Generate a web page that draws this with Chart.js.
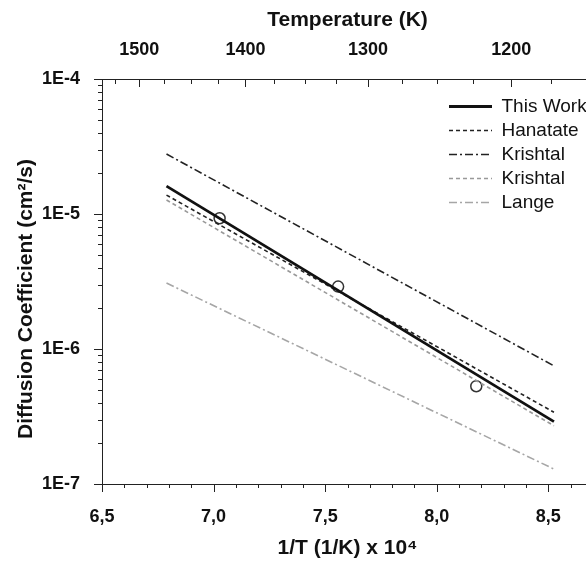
<!DOCTYPE html>
<html>
<head>
<meta charset="utf-8">
<script src="https://cdn.jsdelivr.net/npm/chart.js@4/dist/chart.umd.min.js"></script>
<style>
  html, body { margin: 0; padding: 0; overflow: hidden; background: #fff; }
  #wrap { width: 600px; height: 561px; }
</style>
</head>
<body>
<div id="wrap"><canvas id="c" width="600" height="561"></canvas></div>
<script>
// ---- data ----
const lineX = [6.789, 8.525];                 // 1/T x 1e4 (1473 K .. 1173 K)
const thisWork = [1.61e-5, 2.9e-7];
const hanatate = [1.38e-5, 3.4e-7];
const krishtalA = [2.78e-5, 7.5e-7];
const krishtalB = [1.27e-5, 2.7e-7];
const lange = [3.08e-6, 1.29e-7];
const expX = [7.027, 7.558, 8.177];
const expD = [9.3e-6, 2.9e-6, 5.3e-7];

const xTickValues = [6.5, 7.0, 7.5, 8.0, 8.5];
const xTickLabels = ['6,5', '7,0', '7,5', '8,0', '8,5'];
const yTickValues = [1e-7, 1e-6, 1e-5, 1e-4];
const yTickLabels = ['1E-7', '1E-6', '1E-5', '1E-4'];
const topTemps = [1500, 1400, 1300, 1200];
const topMinorTemps = [1525, 1475, 1450, 1425, 1375, 1350, 1325, 1275, 1250, 1225, 1175, 1150];

const FONT = "'Liberation Sans', Arial, sans-serif";

function pts(xs, ys) { return xs.map((x, i) => ({ x: x, y: ys[i] })); }

const tickPlugin = {
  id: 'axisTicks',
  afterDraw(chart) {
    const ctx = chart.ctx;
    const xs = chart.scales.x, x2 = chart.scales.x2, ys = chart.scales.y;
    const ca = chart.chartArea;
    ctx.save();
    ctx.strokeStyle = '#222';
    ctx.lineWidth = 1;
    ctx.beginPath();
    for (let k = 65; k <= 87; k++) {
      const v = k / 10;
      const px = Math.round(xs.getPixelForValue(v)) + 0.5;
      const major = (k % 5 === 0);
      ctx.moveTo(px, ca.bottom);
      ctx.lineTo(px, ca.bottom + (major ? 8 : 4));
    }
    topTemps.forEach(T => {
      const px = Math.round(x2.getPixelForValue(1e4 / T)) + 0.5;
      ctx.moveTo(px, ca.top); ctx.lineTo(px, ca.top + 8);
    });
    topMinorTemps.forEach(T => {
      const px = Math.round(x2.getPixelForValue(1e4 / T)) + 0.5;
      ctx.moveTo(px, ca.top); ctx.lineTo(px, ca.top + 5);
    });
    for (let e = -7; e <= -4; e++) {
      const base = Math.pow(10, e);
      const py = Math.round(ys.getPixelForValue(base)) + 0.5;
      ctx.moveTo(ca.left, py); ctx.lineTo(ca.left - 8, py);
      if (e < -4) {
        for (let m = 2; m <= 9; m++) {
          const pm = Math.round(ys.getPixelForValue(m * base)) + 0.5;
          ctx.moveTo(ca.left, pm); ctx.lineTo(ca.left - 4, pm);
        }
      }
    }
    ctx.stroke();
    ctx.restore();
  },
  afterLayout(chart) {
    const lg = chart.legend;
    if (lg) {
      lg.left = 444; lg.top = 92;
      lg.right = 600; lg.bottom = 300;
    }
  }
};

const common = { showLine: true, pointRadius: 0, pointHoverRadius: 0, fill: false, tension: 0 };

new Chart(document.getElementById('c'), {
  type: 'scatter',
  data: {
    datasets: [
      Object.assign({ label: 'This Work', data: pts(lineX, thisWork), borderColor: '#111', backgroundColor: '#111', borderWidth: 2.8 }, common),
      Object.assign({ label: 'Hanatate', data: pts(lineX, hanatate), borderColor: '#222', backgroundColor: '#222', borderWidth: 1.6, borderDash: [4, 3] }, common),
      Object.assign({ label: 'Krishtal', data: pts(lineX, krishtalA), borderColor: '#222', backgroundColor: '#222', borderWidth: 1.6, borderDash: [8, 3, 2, 3] }, common),
      Object.assign({ label: 'Krishtal', data: pts(lineX, krishtalB), borderColor: '#999', backgroundColor: '#999', borderWidth: 1.6, borderDash: [4, 3] }, common),
      Object.assign({ label: 'Lange', data: pts(lineX, lange), borderColor: '#a6a6a6', backgroundColor: '#a6a6a6', borderWidth: 1.6, borderDash: [8, 3, 2, 3] }, common),
      { label: 'exp', data: pts(expX, expD), showLine: false, pointRadius: 5.5, pointBorderWidth: 1.5,
        pointBackgroundColor: '#fff', pointBorderColor: '#333', backgroundColor: '#fff', borderColor: '#333' }
    ]
  },
  options: {
    responsive: false,
    animation: false,
    devicePixelRatio: 1,
    layout: { padding: { left: 0, right: 1, top: 0, bottom: 0 } },
    plugins: {
      tooltip: { enabled: false },
      legend: {
        display: true,
        position: 'chartArea',
        align: 'start',
        labels: {
          usePointStyle: true,
          pointStyle: 'line',
          pointStyleWidth: 43,
          padding: 5,
          color: '#111',
          font: { family: FONT, size: 19 },
          generateLabels: (chart) => {
            const items = Chart.defaults.plugins.legend.labels.generateLabels(chart);
            items.forEach(it => {
              const ds = chart.data.datasets[it.datasetIndex];
              it.lineDash = ds.borderDash || [];
              it.lineWidth = ds.borderWidth;
              it.strokeStyle = ds.borderColor;
              it.fillStyle = ds.borderColor;
              it.pointStyle = 'line';
            });
            return items;
          },
          filter: (item) => item.text !== 'exp'
        }
      }
    },
    scales: {
      x: {
        type: 'linear', position: 'bottom', min: 6.5, max: 8.7,
        grid: { display: false },
        border: { display: true, color: '#222', width: 1 },
        afterBuildTicks: (s) => { s.ticks = xTickValues.map(v => ({ value: v })); },
        afterFit: (s) => { s.height = 77; },
        ticks: {
          autoSkip: false, maxRotation: 0, padding: 14, color: '#111',
          font: { family: FONT, size: 18, weight: 'bold' },
          callback: (v) => { const i = xTickValues.indexOf(v); return i >= 0 ? xTickLabels[i] : ''; }
        },
        title: { display: true, text: '1/T (1/K) x 10\u2074', color: '#111', padding: { top: 0, bottom: 0 },
          font: { family: FONT, size: 21, weight: 'bold' } }
      },
      x2: {
        type: 'linear', position: 'top', min: 6.5, max: 8.7,
        grid: { display: false },
        border: { display: true, color: '#222', width: 1 },
        afterBuildTicks: (s) => { s.ticks = topTemps.map(T => ({ value: 1e4 / T })); },
        afterFit: (s) => { s.height = 79; },
        ticks: {
          autoSkip: false, maxRotation: 0, padding: 10, color: '#111',
          font: { family: FONT, size: 18, weight: 'bold' },
          callback: (v) => String(Math.round(1e4 / v))
        },
        title: { display: true, text: 'Temperature (K)', color: '#111', padding: { top: 8, bottom: 0 },
          font: { family: FONT, size: 21, weight: 'bold' } }
      },
      y: {
        type: 'logarithmic', position: 'left', min: 1e-7, max: 1e-4,
        grid: { display: false },
        border: { display: true, color: '#222', width: 1 },
        afterBuildTicks: (s) => { s.ticks = yTickValues.map(v => ({ value: v })); },
        afterFit: (s) => { s.width = 102; },
        ticks: {
          autoSkip: false, padding: 14, color: '#111',
          font: { family: FONT, size: 18, weight: 'bold' },
          callback: (v) => { const i = yTickValues.findIndex(t => Math.abs(t - v) / t < 1e-6); return i >= 0 ? yTickLabels[i] : ''; }
        },
        title: { display: true, text: 'Diffusion Coefficient (cm\u00b2/s)      ', color: '#111', padding: { top: 14, bottom: 0 },
          font: { family: FONT, size: 21, weight: 'bold' } }
      }
    }
  },
  plugins: [tickPlugin]
});
</script>
</body>
</html>
